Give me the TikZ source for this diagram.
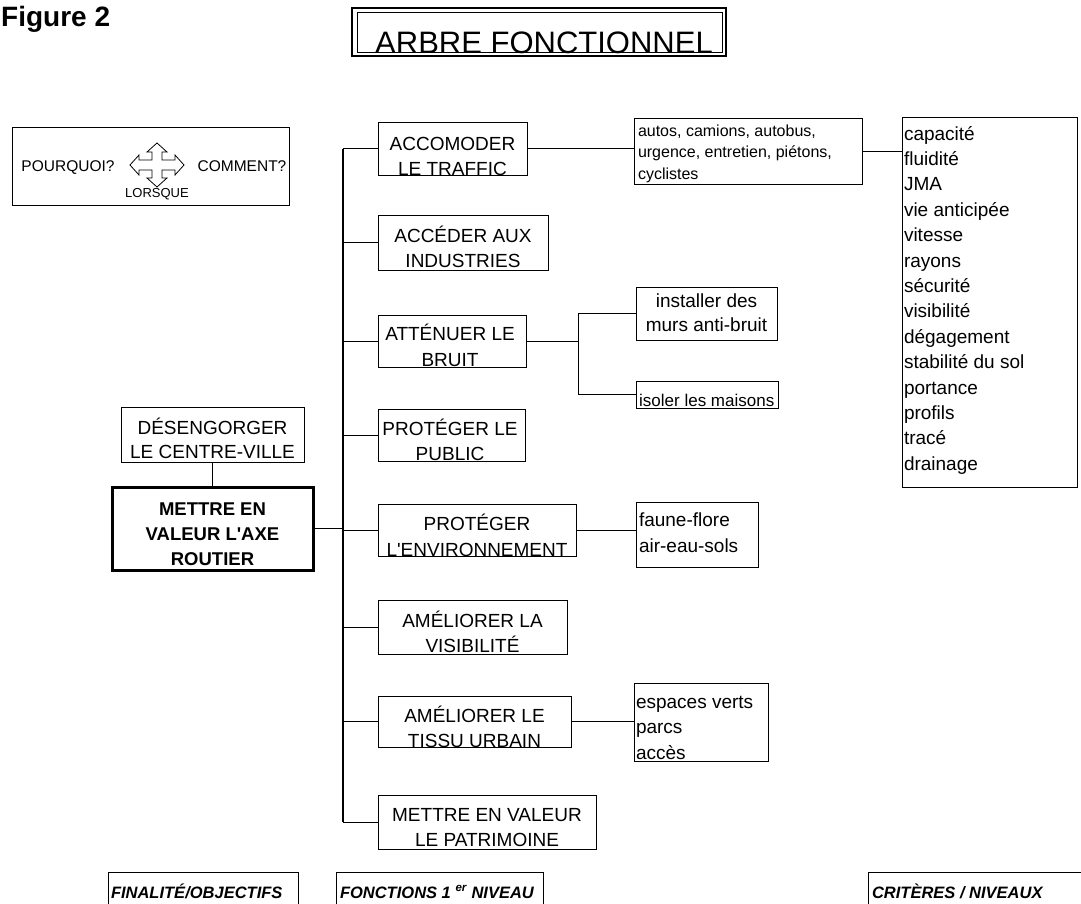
\documentclass[tikz,border=0pt]{standalone}
\usepackage{fontspec}
\setmainfont{Liberation Sans}[Ligatures=TeXOff]
\begin{document}
\begin{tikzpicture}[x=1pt,y=-1pt,
  box/.style={draw, line width=0.9pt, inner sep=0pt, outer sep=0pt, anchor=north west},
  txt/.style={inner sep=0pt, outer sep=0pt, anchor=base, font=\fontsize{19}{23}\selectfont},
  txtl/.style={inner sep=0pt, outer sep=0pt, anchor=base west, font=\fontsize{19}{23}\selectfont},
  sml/.style={inner sep=0pt, outer sep=0pt, anchor=base west, font=\fontsize{16}{19}\selectfont},
  bld/.style={inner sep=0pt, outer sep=0pt, anchor=base, font=\fontsize{18.5}{22}\selectfont\bfseries},
  lab/.style={inner sep=0pt, outer sep=0pt, anchor=base west, font=\fontsize{16.5}{20}\selectfont\bfseries\itshape},
  lnk/.style={line width=1pt},
  trunkline/.style={line width=2pt}]
\useasboundingbox (0,0) rectangle (1081,903);
\fill[white] (0,0) rectangle (1081,903);

% heading
\node[inner sep=0pt, anchor=base west, font=\fontsize{28}{32}\selectfont\bfseries] (fig) at (1,26) {Figure 2};
\node[box, minimum width=374pt, minimum height=48pt, line width=1.5pt] (tout) at (352,8) {};
\node[box, minimum width=365pt, minimum height=40pt, line width=1pt] (tin) at (357,12) {};
\node[inner sep=0pt, anchor=base, font=\fontsize{31}{34}\selectfont] (title) at (544,53) {ARBRE FONCTIONNEL};

% legend
\node[box, minimum width=277pt, minimum height=78pt] (leg) at (12,127) {};
\node[inner sep=0pt, anchor=base, font=\fontsize{15.5}{18}\selectfont] (pq) at (68,171) {POURQUOI?};
\node[inner sep=0pt, anchor=base, font=\fontsize{15.5}{18}\selectfont] (cm) at (242,171) {COMMENT?};
\node[inner sep=0pt, anchor=base, font=\fontsize{13}{16}\selectfont] (lq) at (157,197) {LORSQUE};
\draw[line width=0.8pt, line join=miter, shift={(157,165)}]
  (5,-5) -- (18,-5) -- (18,-10) -- (27,0) -- (18,10) -- (18,5) -- (5,5)
  -- (5,13) -- (10,13) -- (0,22) -- (-10,13) -- (-5,13) -- (-5,5)
  -- (-18,5) -- (-18,10) -- (-27,0) -- (-18,-10) -- (-18,-5) -- (-5,-5)
  -- (-5,-13) -- (-10,-13) -- (0,-22) -- (10,-13) -- (5,-13) -- cycle;

% objective boxes
\node[box, minimum width=183pt, minimum height=55pt] (des) at (121,407) {};
\node[txt] (des1) at (212.5,434) {DÉSENGORGER};
\node[txt] (des2) at (212.5,458) {LE CENTRE-VILLE};
\node[box, minimum width=201pt, minimum height=83pt, line width=3pt] (main) at (112,487) {};
\node[bld] (m1) at (212.5,515) {METTRE EN};
\node[bld] (m2) at (212.5,540) {VALEUR L'AXE};
\node[bld] (m3) at (212.5,565) {ROUTIER};
\draw[lnk] (des.south) -- (main.north);

% first-level functions
\node[box, minimum width=149pt, minimum height=53pt] (b1) at (378,122) {};
\node[txt] at (452.5,150) {ACCOMODER};
\node[txt] at (452.5,175) {LE TRAFFIC};
\node[box, minimum width=170pt, minimum height=55pt] (b2) at (378,215) {};
\node[txt] at (463,242) {ACCÉDER AUX};
\node[txt] at (463,267) {INDUSTRIES};
\node[box, minimum width=148pt, minimum height=52pt] (b3) at (378,315) {};
\node[txt] at (450,340) {ATTÉNUER LE};
\node[txt] at (450,366) {BRUIT};
\node[box, minimum width=147pt, minimum height=52pt] (b4) at (378,409) {};
\node[txt] at (450,435) {PROTÉGER LE};
\node[txt] at (450,460) {PUBLIC};
\node[box, minimum width=198pt, minimum height=52pt] (b5) at (378,504) {};
\node[txt] at (477,530) {PROTÉGER};
\node[txt] at (477,556) {L'ENVIRONNEMENT};
\node[box, minimum width=189pt, minimum height=54pt] (b6) at (378,600) {};
\node[txt] at (472.5,627) {AMÉLIORER LA};
\node[txt] at (472.5,652) {VISIBILITÉ};
\node[box, minimum width=193pt, minimum height=51pt] (b7) at (378,696) {};
\node[txt] at (474.5,722) {AMÉLIORER LE};
\node[txt] at (474.5,747) {TISSU URBAIN};
\node[box, minimum width=218pt, minimum height=54pt] (b8) at (378,795) {};
\node[txt] at (487,821) {METTRE EN VALEUR};
\node[txt] at (487,846) {LE PATRIMOINE};

% trunk
\coordinate (tr) at (343,0);
\draw[trunkline] (tr |- b1.west) -- (tr |- b8.west);
\foreach \b in {b1,b2,b3,b4,b5,b6,b7,b8}
  \draw[lnk] (tr |- \b.west) -- (\b.west);
\draw[lnk] (main.east) -- (tr |- main.east);

% second level
\node[box, minimum width=228pt, minimum height=66pt] (autos) at (634,118) {};
\node[sml] at (638,136) {autos, camions, autobus,};
\node[sml] at (638,157) {urgence, entretien, piétons,};
\node[sml] at (638,179) {cyclistes};
\draw[lnk] (b1.east) -- (b1.east -| autos.west);

\node[box, minimum width=141pt, minimum height=53pt] (inst) at (636,287) {};
\node[txt] at (706.5,307) {installer des};
\node[txt] at (706.5,331) {murs anti-bruit};
\node[box, minimum width=142pt, minimum height=27pt] (iso) at (636,381) {};
\node[inner sep=0pt, anchor=base west, font=\fontsize{17}{20}\selectfont] at (639,406) {isoler les maisons};
\coordinate (j) at (578,0);
\draw[lnk] (b3.east) -- (b3.east -| j);
\draw[lnk] (inst.west) -| (j |- iso.west) -- (iso.west);

\node[box, minimum width=122pt, minimum height=65pt] (faune) at (636,502) {};
\node[txtl] at (639,526) {faune-flore};
\node[txtl] at (639,552) {air-eau-sols};
\draw[lnk] (b5.east) -- (b5.east -| faune.west);

\node[box, minimum width=134pt, minimum height=78pt] (esp) at (634,683) {};
\node[txtl] at (636,708) {espaces verts};
\node[txtl] at (636,733) {parcs};
\node[txtl] at (636,759) {accès};
\draw[lnk] (b7.east) -- (b7.east -| esp.west);

% criteria
\node[box, minimum width=175pt, minimum height=370pt] (crit) at (902,117) {};
\foreach \w [count=\i] in {capacité,fluidité,JMA,vie anticipée,vitesse,rayons,sécurité,visibilité,dégagement,stabilité du sol,portance,profils,tracé,drainage}
  \node[txtl] (c\i) at (904,{140+25.4*(\i-1)}) {\w};
\draw[lnk] (autos.east) -- (autos.east -| crit.west);

% bottom labels
\node[box, minimum width=190pt, minimum height=45pt] (l1) at (108,872) {};
\node[lab] (l1t) at (111,898) {FINALITÉ/OBJECTIFS};
\node[box, minimum width=207pt, minimum height=45pt] (l2) at (336,872) {};
\node[lab] (l2t) at (340,898) {FONCTIONS 1 \textsuperscript{er} NIVEAU};
\node[box, minimum width=230pt, minimum height=45pt] (l3) at (868,872) {};
\node[lab] (l3t) at (872,898) {CRITÈRES / NIVEAUX};
\end{tikzpicture}
\end{document}
